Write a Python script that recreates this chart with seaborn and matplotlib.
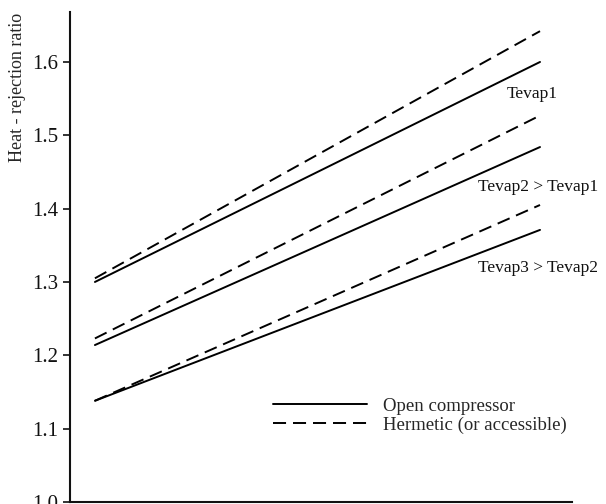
import matplotlib
matplotlib.use("Agg")
import matplotlib.pyplot as plt
import seaborn as sns
import pandas as pd

# Data (relative x position along condensing temperature, heat-rejection ratio)
x_pts = [0.0, 1.0]
open_evap1 = [1.300, 1.600]
herm_evap1 = [1.305, 1.642]
open_evap2 = [1.214, 1.484]
herm_evap2 = [1.223, 1.527]
open_evap3 = [1.138, 1.371]
herm_evap3 = [1.138, 1.405]

curve_labels = ["Tevap1", "Tevap2 > Tevap1", "Tevap3 > Tevap2"]
label_x = [0.926, 0.861, 0.861]
label_y = [1.556, 1.429, 1.319]
legend_labels = ["Open compressor", "Hermetic (or accessible)"]
yticks = [1.0, 1.1, 1.2, 1.3, 1.4, 1.5, 1.6]

sns.set_theme(style="ticks")
plt.rcParams["font.family"] = ["Liberation Serif", "DejaVu Serif"]

fig = plt.figure(figsize=(6.06, 5.04), dpi=100)
ax = fig.add_axes([0.1155, 0.004, 0.8285, 0.972])

lw = 1.4
dash = (0, (9.4 / lw, 5.0 / lw))
rows = []
for name, vals in [("o1", open_evap1), ("h1", herm_evap1), ("o2", open_evap2),
                   ("h2", herm_evap2), ("o3", open_evap3), ("h3", herm_evap3)]:
    for xv, yv in zip(x_pts, vals):
        rows.append({"x": xv, "y": yv, "series": name})
df = pd.DataFrame(rows)

handles = {}
for name in ["o1", "h1", "o2", "h2", "o3", "h3"]:
    sub = df[df["series"] == name]
    ls = "-" if name.startswith("o") else dash
    sns.lineplot(data=sub, x="x", y="y", ax=ax, color="black", lw=lw,
                 linestyle=ls, legend=False)
    handles[name[0]] = ax.lines[-1]

for t, tx, ty in zip(curve_labels, label_x, label_y):
    ax.text(tx, ty, t, fontsize=12.5, va="center", ha="left", color="#111111")

leg = ax.legend([handles["o"], handles["h"]], legend_labels, frameon=False,
                loc="center left", bbox_to_anchor=(0.405, 0.176), fontsize=13.5,
                handlelength=5.0, handletextpad=0.85, labelspacing=0.1,
                borderpad=0, borderaxespad=0)

ax.set_xlim(-0.056, 1.072)
ax.set_ylim(1.0, 1.668)
ax.set_yticks(yticks)
ax.set_yticklabels([f"{v:.1f}" for v in yticks])
ax.set_xticks([])
ax.set_xlabel("")
ax.set_ylabel("Heat - rejection ratio", fontsize=13)
ax.yaxis.set_label_coords(-0.088, 0.846)
ax.tick_params(axis="y", labelsize=15, length=5, width=1.2, direction="out",
               colors="#111111")
for s in ["top", "right"]:
    ax.spines[s].set_visible(False)
for s in ["left", "bottom"]:
    ax.spines[s].set_linewidth(1.5)
    ax.spines[s].set_color("#111111")

fig.savefig("out.png", dpi=100)
